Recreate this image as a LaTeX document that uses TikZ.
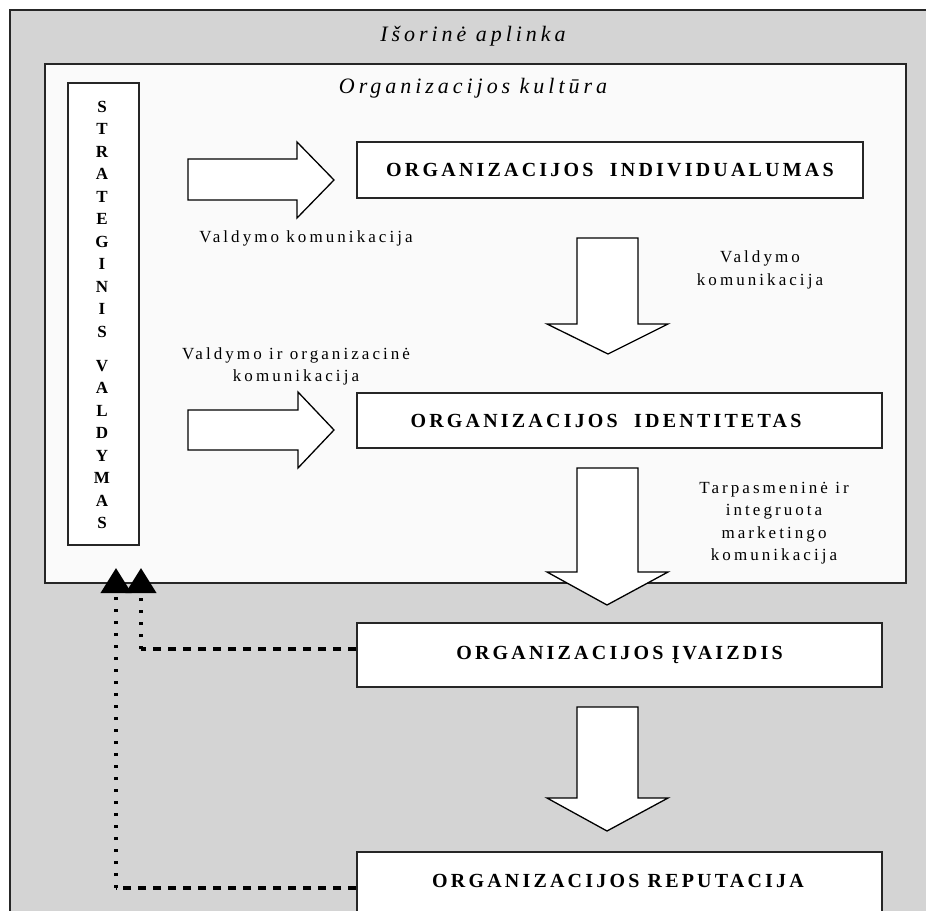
\documentclass[tikz,border=0pt]{standalone}
\usepackage{fontspec}
\setmainfont{Liberation Serif}
\usetikzlibrary{arrows.meta}
\definecolor{outergrey}{HTML}{D4D4D4}
\definecolor{innerwhite}{HTML}{FAFAFA}
\definecolor{edge}{HTML}{262626}
\tikzset{
  frame/.style={draw=edge, line width=2.2pt},
  box/.style={draw=edge, line width=1.8pt, fill=white, inner sep=0pt},
  boxtext/.style={font=\fontsize{20}{22}\selectfont\bfseries\addfontfeatures{LetterSpace=16}},
  stratletters/.style={font=\fontsize{17}{22.5}\selectfont\bfseries, align=center, inner sep=0pt},
  ittitle/.style={font=\fontsize{22}{24}\selectfont\itshape\addfontfeatures{LetterSpace=18}, inner sep=0pt},
  lbl/.style={font=\fontsize{17}{22.5}\selectfont\addfontfeatures{LetterSpace=18}, align=center, inner sep=0pt, anchor=north},
  blockarrow/.style={draw=black, line width=1.3pt, fill=white, line join=miter},
  hdash/.style={draw=black, line width=4pt, dash pattern=on 8pt off 7pt},
  vdot/.style={draw=black, line width=4pt, dash pattern=on 3pt off 9pt},
  tip/.style={-{Triangle[length=25pt,width=30pt]}}
}
\begin{document}
\begin{tikzpicture}[x=1pt,y=-1pt]
\useasboundingbox (0,0) rectangle (926,910);
\clip (0,0) rectangle (926,910);
% outer environment
\draw[frame, fill=outergrey] (10,10) rectangle (980,980);
\node[ittitle] (tOuter) at (473,36) {Išorinė aplinka};
% organisational culture
\draw[frame, fill=innerwhite] (45,64) rectangle (906,583);
\node[ittitle] (tCulture) at (473,88) {Organizacijos kultūra};
% strategic management
\node[box, minimum width=71pt, minimum height=462pt] (strat) at (103.5,314) {};
\node[stratletters] (stratText) at (102,315) {S\\T\\R\\A\\T\\E\\G\\I\\N\\I\\S\\[11.5pt]V\\A\\L\\D\\Y\\M\\A\\S};
% main boxes
\node[box, minimum width=506pt, minimum height=56pt] (b1) at (610,170) {};
\node[boxtext] (b1t) at (b1.center) {ORGANIZACIJOS\ \ INDIVIDUALUMAS};
\node[box, minimum width=525pt, minimum height=55pt] (b2) at (619.5,420.5) {};
\node[boxtext] (b2t) at (606,420.5) {ORGANIZACIJOS\ \ IDENTITETAS};
\node[box, minimum width=525pt, minimum height=64pt] (b3) at (619.5,655) {};
\node[boxtext] (b3t) at (b3.center) {ORGANIZACIJOS ĮVAIZDIS};
\node[box, minimum width=525pt, minimum height=60pt] (b4) at (619.5,882) {};
\node[boxtext] (b4t) at (618,881) {ORGANIZACIJOS REPUTACIJA};
% block arrows
\draw[blockarrow] (188,159) -- (297,159) -- (297,142) -- (334,180) -- (297,218) -- (297,200) -- (188,200) -- cycle;
\draw[blockarrow] (188,410) -- (298,410) -- (298,392) -- (334,430) -- (298,468) -- (298,450) -- (188,450) -- cycle;
\draw[blockarrow] (577,238) -- (638,238) -- (638,324) -- (668,324) -- (608,354) -- (547,324) -- (577,324) -- cycle;
\draw[blockarrow] (577,468) -- (638,468) -- (638,572) -- (668,572) -- (607,605) -- (547,572) -- (577,572) -- cycle;
\draw[blockarrow] (577,707) -- (638,707) -- (638,798) -- (668,798) -- (607,831) -- (547,798) -- (577,798) -- cycle;
% labels
\node[lbl] (l1) at (306,231) {Valdymo komunikacija};
\node[lbl] (l2) at (760,251) {Valdymo\\komunikacija};
\node[lbl] (l3) at (296,347) {Valdymo ir organizacinė\\komunikacija};
\node[lbl] (l4) at (774,482) {Tarpasmeninė ir\\integruota\\marketingo\\komunikacija};
% feedback connectors
\coordinate (tipL) at (116,568);
\coordinate (tipR) at (141,568);
\coordinate (k3) at ([yshift=6pt]b3.west -| tipR);
\coordinate (k4) at ([yshift=-6pt]b4.west -| tipL);
\draw[hdash] ([yshift=6pt]b3.west) -- (k3);
\draw[vdot, tip] (k3) -- (tipR);
\draw[hdash] ([yshift=-6pt]b4.west) -- (k4);
\draw[vdot, tip] (k4) -- (tipL);
\end{tikzpicture}
\end{document}
